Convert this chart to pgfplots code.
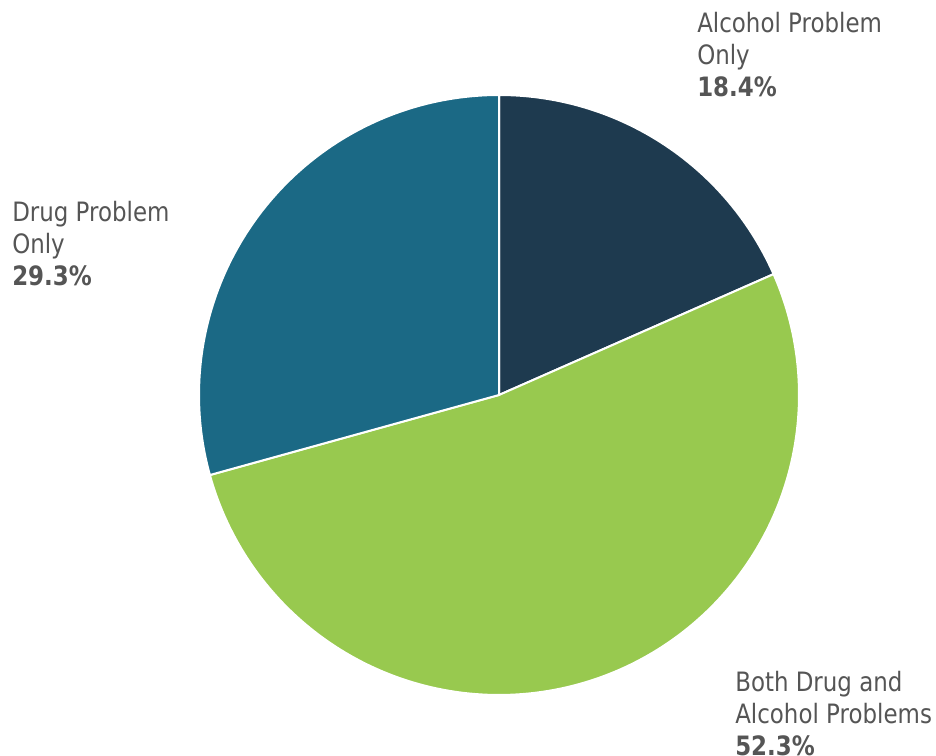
\documentclass[border=0pt]{standalone}
\usepackage{pgfplots}
\pgfplotsset{compat=1.18}
\usepackage{fontspec}
\setmainfont[FakeStretch=0.86]{DejaVu Sans}
\definecolor{cAlc}{HTML}{1E3A4F}
\definecolor{cBoth}{HTML}{98C94F}
\definecolor{cDrug}{HTML}{1B6985}
\definecolor{txt}{HTML}{555555}
\begin{document}
\begin{tikzpicture}
% shares in percent
\def\vAlc{18.4}
\def\vBoth{52.3}
\def\vDrug{29.3}
\pgfmathsetmacro{\aA}{90}
\pgfmathsetmacro{\aB}{\aA-3.6*\vAlc}
\pgfmathsetmacro{\aC}{\aB-3.6*\vBoth}
\pgfmathsetmacro{\aD}{\aC-3.6*\vDrug}
\begin{axis}[at={(0,0)},anchor=south west,width=702pt,height=567pt,scale only axis,
  xmin=0,xmax=936,ymin=0,ymax=756,hide axis,clip=false]
\addplot[fill=cAlc,draw=white,line width=1.5pt,domain=\aB:\aA,samples=80,variable=\t]
  ({499+300*cos(\t)},{361+300*sin(\t)}) -- (axis cs:499,361) -- cycle;
\addplot[fill=cBoth,draw=white,line width=1.5pt,domain=\aC:\aB,samples=160,variable=\t]
  ({499+300*cos(\t)},{361+300*sin(\t)}) -- (axis cs:499,361) -- cycle;
\addplot[fill=cDrug,draw=white,line width=1.5pt,domain=\aD:\aC,samples=100,variable=\t]
  ({499+300*cos(\t)},{361+300*sin(\t)}) -- (axis cs:499,361) -- cycle;
\begin{scope}[every node/.style={anchor=base west,inner sep=0pt,text=txt,font=\fontsize{20}{24}\selectfont}]
\node at (axis cs:697,723) {Alcohol Problem};
\node at (axis cs:697,691) {Only};
\node at (axis cs:697,659) {\bfseries\vAlc\%};
\node at (axis cs:12,534) {Drug Problem};
\node at (axis cs:12,502) {Only};
\node at (axis cs:12,470) {\bfseries\vDrug\%};
\node at (axis cs:735,64) {Both Drug and};
\node at (axis cs:735,32) {Alcohol Problems};
\node at (axis cs:735,0) {\bfseries\vBoth\%};
\end{scope}
\end{axis}
\pgfresetboundingbox
\path[use as bounding box] (0,0) rectangle (702pt,567pt);
\end{tikzpicture}
\end{document}
